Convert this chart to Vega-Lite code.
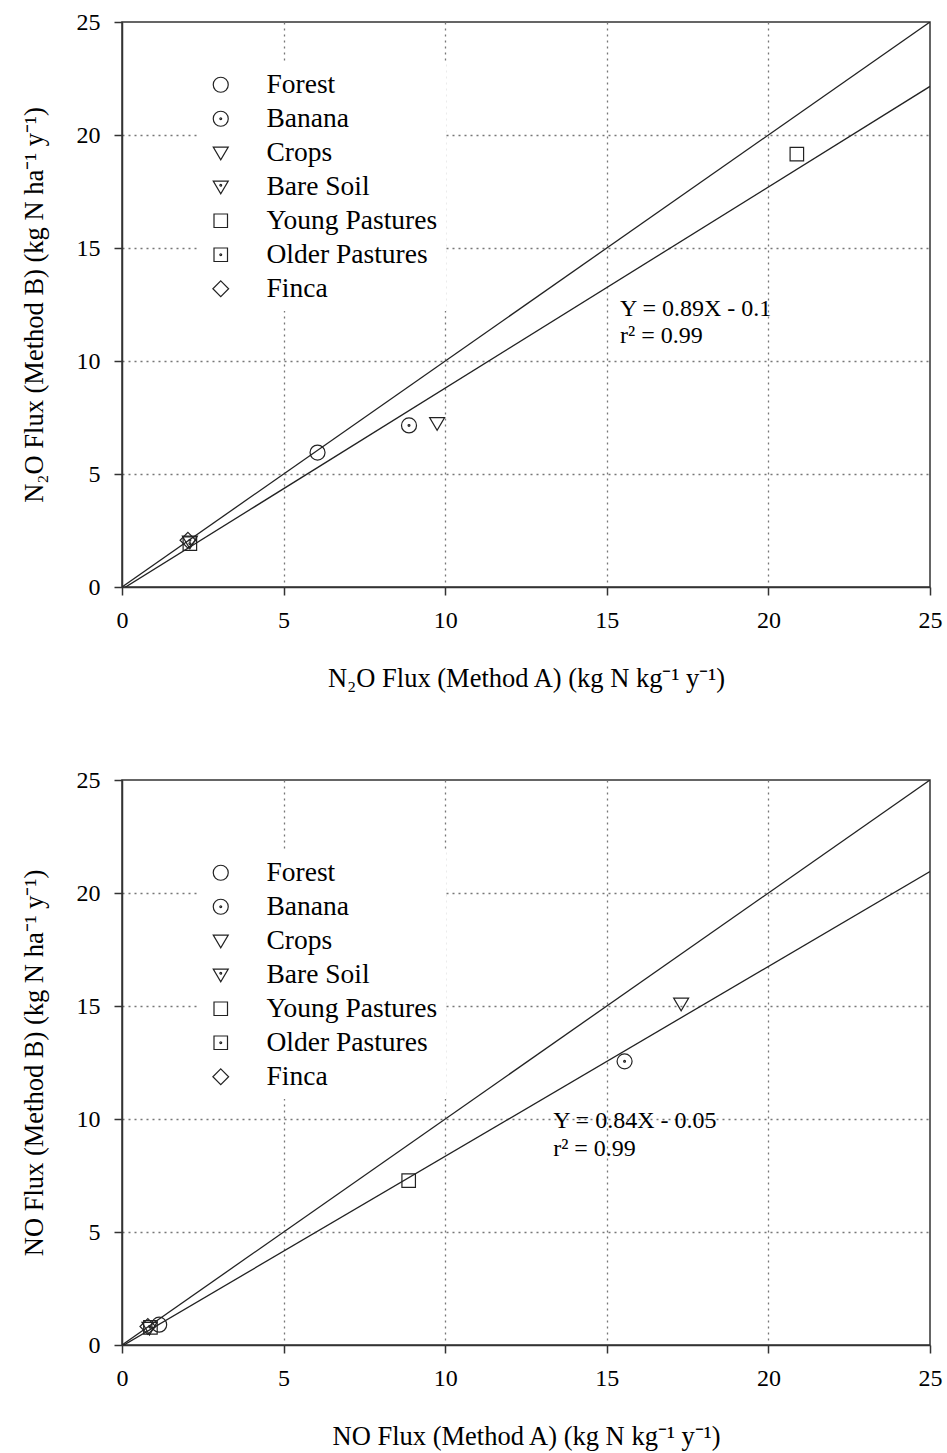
{
  "$schema": "https://vega.github.io/schema/vega-lite/v6.json",
  "background": "white",
  "padding": {"left": 20, "top": 9, "right": 5, "bottom": 5},
  "spacing": 74,
  "datasets": {
    "pts": [
      {"panel": "N2O", "type": "Forest", "x": 6.05, "y": 5.95},
      {"panel": "N2O", "type": "Banana", "x": 8.88, "y": 7.15},
      {"panel": "N2O", "type": "Crops", "x": 9.75, "y": 7.25},
      {"panel": "N2O", "type": "Bare Soil", "x": 2.1, "y": 2.0},
      {"panel": "N2O", "type": "Young Pastures", "x": 20.88, "y": 19.15},
      {"panel": "N2O", "type": "Older Pastures", "x": 2.1, "y": 1.92},
      {"panel": "N2O", "type": "Finca", "x": 2.04, "y": 2.07},
      {"panel": "NO", "type": "Forest", "x": 1.15, "y": 0.9},
      {"panel": "NO", "type": "Banana", "x": 15.55, "y": 12.55},
      {"panel": "NO", "type": "Crops", "x": 17.3, "y": 15.1},
      {"panel": "NO", "type": "Bare Soil", "x": 0.85, "y": 0.75},
      {"panel": "NO", "type": "Young Pastures", "x": 8.87, "y": 7.27},
      {"panel": "NO", "type": "Older Pastures", "x": 0.88, "y": 0.78},
      {"panel": "NO", "type": "Finca", "x": 0.8, "y": 0.82}
    ],
    "lines": [
      {"panel": "N2O", "line": "1:1", "x": 0, "y": 0},
      {"panel": "N2O", "line": "1:1", "x": 25, "y": 25},
      {"panel": "N2O", "line": "fit", "x": 0, "y": -0.1},
      {"panel": "N2O", "line": "fit", "x": 25, "y": 22.15},
      {"panel": "NO", "line": "1:1", "x": 0, "y": 0},
      {"panel": "NO", "line": "1:1", "x": 25, "y": 25},
      {"panel": "NO", "line": "fit", "x": 0, "y": -0.05},
      {"panel": "NO", "line": "fit", "x": 25, "y": 20.95}
    ],
    "notes": [
      {"panel": "N2O", "x": 15.41, "y": 12.28, "label": "Y = 0.89X - 0.1"},
      {"panel": "N2O", "x": 15.41, "y": 11.09, "label": "r² = 0.99"},
      {"panel": "NO", "x": 13.34, "y": 9.91, "label": "Y = 0.84X - 0.05"},
      {"panel": "NO", "x": 13.34, "y": 8.67, "label": "r² = 0.99"}
    ]
  },
  "config": {
    "view": {"stroke": "#333", "strokeWidth": 1.5},
    "axis": {
      "labelFont": "Liberation Serif",
      "labelFontSize": 24,
      "labelColor": "black",
      "labelPadding": 14,
      "labelFlush": false,
      "titleFont": "Liberation Serif",
      "titleFontSize": 26.5,
      "titleFontWeight": "normal",
      "titleColor": "black",
      "domainColor": "#333",
      "domainWidth": 1.5,
      "tickColor": "#333",
      "tickWidth": 1.5,
      "tickSize": 8,
      "grid": true,
      "gridColor": "#777",
      "gridDash": [2, 4],
      "gridWidth": 1.3,
      "gridOpacity": {"condition": {"test": "datum.value == 0 || datum.value == 25", "value": 0}, "value": 1}
    },
    "axisX": {"titlePadding": 33, "labelPadding": 13},
    "axisY": {"titlePadding": 28},
    "legend": {
      "orient": "none",
      "labelFont": "Liberation Serif",
      "labelFontSize": 27.5,
      "labelColor": "black",
      "labelLimit": 0,
      "symbolSize": 225,
      "symbolStrokeWidth": 1.2,
      "symbolStrokeColor": "#222",
      "symbolFillColor": "transparent",
      "labelOffset": 32,
      "rowPadding": 5,
      "fillColor": "white",
      "padding": 8
    }
  },
  "resolve": {"scale": {"shape": "independent"}, "legend": {"shape": "independent"}},
  "vconcat": [
    {
      "width": 808,
      "height": 565,
      "encoding": {
        "x": {"field": "x", "type": "quantitative", "scale": {"domain": [0, 25], "nice": false}, "axis": {"values": [0, 5, 10, 15, 20, 25], "title": "N₂O Flux (Method A) (kg N kg⁻¹ y⁻¹)"}},
        "y": {"field": "y", "type": "quantitative", "scale": {"domain": [0, 25], "nice": false}, "axis": {"values": [0, 5, 10, 15, 20, 25], "title": "N₂O Flux (Method B) (kg N ha⁻¹ y⁻¹)"}}
      },
      "layer": [
        {
          "data": {"name": "lines"},
          "transform": [{"filter": "datum.panel == 'N2O'"}],
          "mark": {"type": "line", "color": "#222", "strokeWidth": 1.3, "clip": true},
          "encoding": {"detail": {"field": "line"}}
        },
        {
          "data": {"name": "pts"},
          "transform": [{"filter": "datum.panel == 'N2O'"}],
          "mark": {"type": "point", "filled": false, "color": "#222", "strokeWidth": 1.2, "size": 225, "opacity": 1},
          "encoding": {
            "shape": {
              "field": "type", "type": "nominal",
              "scale": {
                "domain": ["Forest", "Banana", "Crops", "Bare Soil", "Young Pastures", "Older Pastures", "Finca"],
                "range": [
                  "M -1 0 A 1 1 0 1 1 1 0 A 1 1 0 1 1 -1 0 Z",
                  "M -1 0 A 1 1 0 1 1 1 0 A 1 1 0 1 1 -1 0 Z M -0.12 0 A 0.12 0.12 0 1 1 0.12 0 A 0.12 0.12 0 1 1 -0.12 0 Z",
                  "M -1 -0.75 L 1 -0.75 L 0 0.95 Z",
                  "M -1 -0.75 L 1 -0.75 L 0 0.95 Z M -0.12 -0.2 A 0.12 0.12 0 1 1 0.12 -0.2 A 0.12 0.12 0 1 1 -0.12 -0.2 Z",
                  "M -0.9 -0.9 L 0.9 -0.9 L 0.9 0.9 L -0.9 0.9 Z",
                  "M -0.9 -0.9 L 0.9 -0.9 L 0.9 0.9 L -0.9 0.9 Z M -0.12 0 A 0.12 0.12 0 1 1 0.12 0 A 0.12 0.12 0 1 1 -0.12 0 Z",
                  "M 0 -1.05 L 1.05 0 L 0 1.05 L -1.05 0 Z"
                ]
              },
              "legend": {"title": null, "legendX": 77, "legendY": 41}
            }
          }
        },
        {
          "data": {"name": "notes"},
          "transform": [{"filter": "datum.panel == 'N2O'"}],
          "mark": {"type": "text", "align": "left", "baseline": "middle", "font": "Liberation Serif", "fontSize": 24, "color": "black"},
          "encoding": {"text": {"field": "label"}}
        }
      ]
    },
    {
      "width": 808,
      "height": 565,
      "encoding": {
        "x": {"field": "x", "type": "quantitative", "scale": {"domain": [0, 25], "nice": false}, "axis": {"values": [0, 5, 10, 15, 20, 25], "title": "NO Flux (Method A) (kg N kg⁻¹ y⁻¹)"}},
        "y": {"field": "y", "type": "quantitative", "scale": {"domain": [0, 25], "nice": false}, "axis": {"values": [0, 5, 10, 15, 20, 25], "title": "NO Flux (Method B) (kg N ha⁻¹ y⁻¹)"}}
      },
      "layer": [
        {
          "data": {"name": "lines"},
          "transform": [{"filter": "datum.panel == 'NO'"}],
          "mark": {"type": "line", "color": "#222", "strokeWidth": 1.3, "clip": true},
          "encoding": {"detail": {"field": "line"}}
        },
        {
          "data": {"name": "pts"},
          "transform": [{"filter": "datum.panel == 'NO'"}],
          "mark": {"type": "point", "filled": false, "color": "#222", "strokeWidth": 1.2, "size": 225, "opacity": 1},
          "encoding": {
            "shape": {
              "field": "type", "type": "nominal",
              "scale": {
                "domain": ["Forest", "Banana", "Crops", "Bare Soil", "Young Pastures", "Older Pastures", "Finca"],
                "range": [
                  "M -1 0 A 1 1 0 1 1 1 0 A 1 1 0 1 1 -1 0 Z",
                  "M -1 0 A 1 1 0 1 1 1 0 A 1 1 0 1 1 -1 0 Z M -0.12 0 A 0.12 0.12 0 1 1 0.12 0 A 0.12 0.12 0 1 1 -0.12 0 Z",
                  "M -1 -0.75 L 1 -0.75 L 0 0.95 Z",
                  "M -1 -0.75 L 1 -0.75 L 0 0.95 Z M -0.12 -0.2 A 0.12 0.12 0 1 1 0.12 -0.2 A 0.12 0.12 0 1 1 -0.12 -0.2 Z",
                  "M -0.9 -0.9 L 0.9 -0.9 L 0.9 0.9 L -0.9 0.9 Z",
                  "M -0.9 -0.9 L 0.9 -0.9 L 0.9 0.9 L -0.9 0.9 Z M -0.12 0 A 0.12 0.12 0 1 1 0.12 0 A 0.12 0.12 0 1 1 -0.12 0 Z",
                  "M 0 -1.05 L 1.05 0 L 0 1.05 L -1.05 0 Z"
                ]
              },
              "legend": {"title": null, "legendX": 77, "legendY": 71}
            }
          }
        },
        {
          "data": {"name": "notes"},
          "transform": [{"filter": "datum.panel == 'NO'"}],
          "mark": {"type": "text", "align": "left", "baseline": "middle", "font": "Liberation Serif", "fontSize": 24, "color": "black"},
          "encoding": {"text": {"field": "label"}}
        }
      ]
    }
  ]
}
